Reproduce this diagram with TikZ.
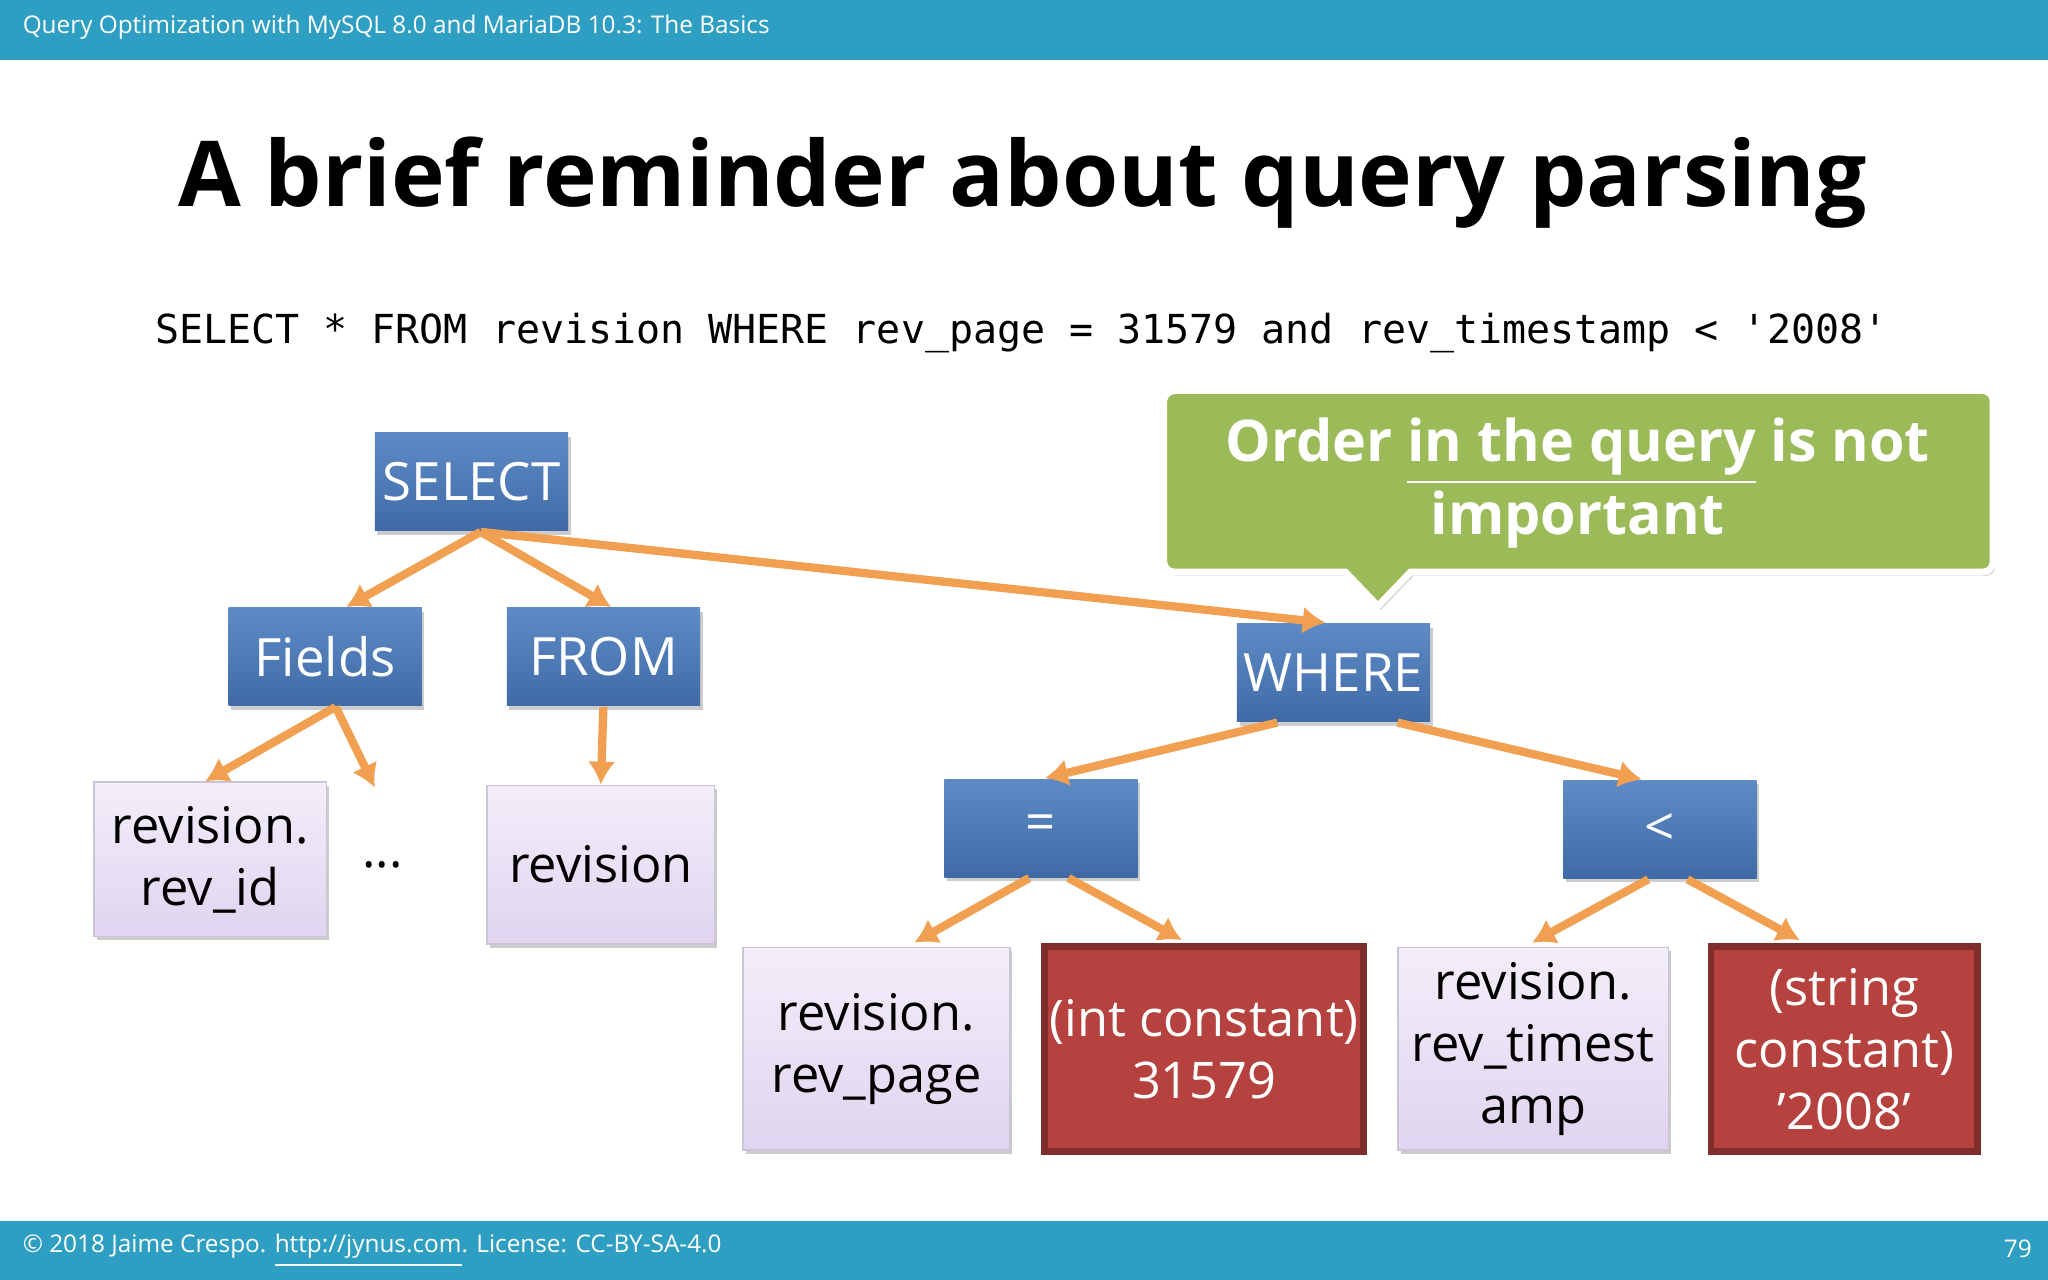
\documentclass[tikz,border=0pt]{standalone}
\usepackage{fontspec}
\setmainfont{Open Sans}
\setmonofont{DejaVu Sans Mono}
\usetikzlibrary{calc,shadows,arrows.meta}
\definecolor{barc}{HTML}{2E9FC2}
\definecolor{bluet}{HTML}{5E8BC6}
\definecolor{blueb}{HTML}{3F6AA6}
\definecolor{lavt}{HTML}{F3EEFA}
\definecolor{lavb}{HTML}{E0D4F0}
\definecolor{redb}{HTML}{B5423F}
\definecolor{grn}{HTML}{9BBB59}
\definecolor{arr}{HTML}{F0A050}
\newcommand{\sq}{{\char"27}}
\begin{document}
\begin{tikzpicture}[x=0.01cm,y=-0.01cm,
  bx/.style={draw=none,minimum width={#1*0.01cm},inner sep=0pt,align=center,drop shadow={shadow xshift=0.02cm,shadow yshift=-0.03cm,opacity=0.4}},
  bl/.style={bx=148,minimum height=0.75cm,top color=bluet,bottom color=blueb,text=white,font=\fontsize{11.5}{13}\selectfont},
  lv/.style={bx=#1,top color=lavt,bottom color=lavb,draw=lavb!80!gray,text=black,font=\fontsize{11}{13.5}\selectfont},
  rd/.style={bx=#1,minimum height=1.57cm,fill=redb,draw=redb!70!black,line width=1.5pt,text=white,font=\fontsize{11}{13.5}\selectfont},
  ar/.style={draw=arr,line width=1.8pt,-{Latex[length=5pt,width=6pt]}}]
\useasboundingbox (0,0) rectangle (1568,980);
\fill[white] (0,0) rectangle (1568,980);
\fill[barc] (0,0) rectangle (1568,46);
\fill[barc] (0,935) rectangle (1568,980);
\node[anchor=west,text=white,font=\fontsize{5.3}{6}\selectfont] (hdr) at (5,21) {Query Optimization with MySQL 8.0 and MariaDB 10.3: The Basics};
\node[anchor=west,text=white,font=\fontsize{5.3}{6}\selectfont] (ftr) at (5,958) {© 2018 Jaime Crespo. \underline{http://jynus.com}. License: CC-BY-SA-4.0};
\node[anchor=east,text=white,font=\fontsize{5.3}{6}\selectfont] (pg) at (1568,956) {79};
\node[font=\bfseries\fontsize{19.8}{24}\selectfont] (title) at (783,140) {A brief reminder about query parsing};
\node[font=\ttfamily\fontsize{8.7}{11}\selectfont] (sql) at (782,255) {SELECT * FROM revision WHERE rev\_page = 31579 and rev\_timestamp < \sq2008\sq};
% callout
\fill[grn,draw=white,line width=1.5pt,drop shadow={shadow xshift=0.02cm,shadow yshift=-0.03cm,opacity=0.4}]
  (900,299) -- (1518,299) to[out=0,in=90] (1526,307) -- (1526,430) to[out=-90,in=0] (1518,438) -- (1080,438) -- (1055,464) -- (1030,438) -- (899,438) to[out=180,in=-90] (891,430) -- (891,307) to[out=90,in=180] (900,299) -- cycle;
\node[text=white,font=\bfseries\fontsize{12.5}{16}\selectfont,align=center] (call) at (1208,370) {Order \underline{in the query} is not\\important};
% blue
\node[bl] (sel) at (361,369) {SELECT};
\node[bl] (fld) at (249,503) {Fields};
\node[bl] (frm) at (462,503) {FROM};
\node[bl] (whr) at (1021,515) {WHERE};
\node[bl] (eq) at (797,634) {=};
\node[bl] (lt) at (1271,635) {<};
% leaves
\node[lv=178,minimum height=1.18cm] (rid) at (161,658) {revision.\\rev\_id};
\node[font=\fontsize{11}{13}\selectfont] (dots) at (293,662) {...};
\node[lv=174,minimum height=1.21cm] (rev) at (460,662) {revision};
\node[lv=204,minimum height=1.55cm] (rpg) at (671,803) {revision.\\rev\_page};
\node[rd=244] (ic) at (922,803) {(int constant)\\31579};
\node[lv=207,minimum height=1.55cm] (rts) at (1174,803) {revision.\\rev\_timest\\amp};
\node[rd=204] (sc) at (1412,803) {(string\\constant)\\\sq2008\sq};
% arrows
\coordinate (s0) at ($(sel.south)+(7,0)$);
\draw[ar] (s0) -- ($(fld.north)+(16,0)$);
\draw[ar] (s0) -- ($(frm.north)+(6,0)$);
\draw[ar] (s0) -- ($(whr.north)+(-6,0)$);
\coordinate (f0) at ($(fld.south)+(8,0)$);
\draw[ar] (f0) -- ($(rid.north)+(-4,0)$);
\coordinate (fe) at (287,603);
\draw[ar] (f0) -- (fe);
\draw[ar] (frm.south) -- (rev.north);
\draw[ar] ($(whr.south)+(-43,0)$) -- ($(eq.north)+(3,0)$);
\draw[ar] ($(whr.south)+(49,0)$) -- ($(lt.north)+(-14,0)$);
\draw[ar] ($(eq.south)+(-9,0)$) -- ($(rpg.north)+(29,-3)$);
\draw[ar] ($(eq.south)+(21,0)$) -- ($(ic.north)+(-17,-2)$);
\draw[ar] ($(lt.south)+(-9,0)$) -- ($(rts.north)+(-1,-3)$);
\draw[ar] ($(lt.south)+(21,0)$) -- ($(sc.north)+(-34,-2)$);
\end{tikzpicture}
\end{document}
